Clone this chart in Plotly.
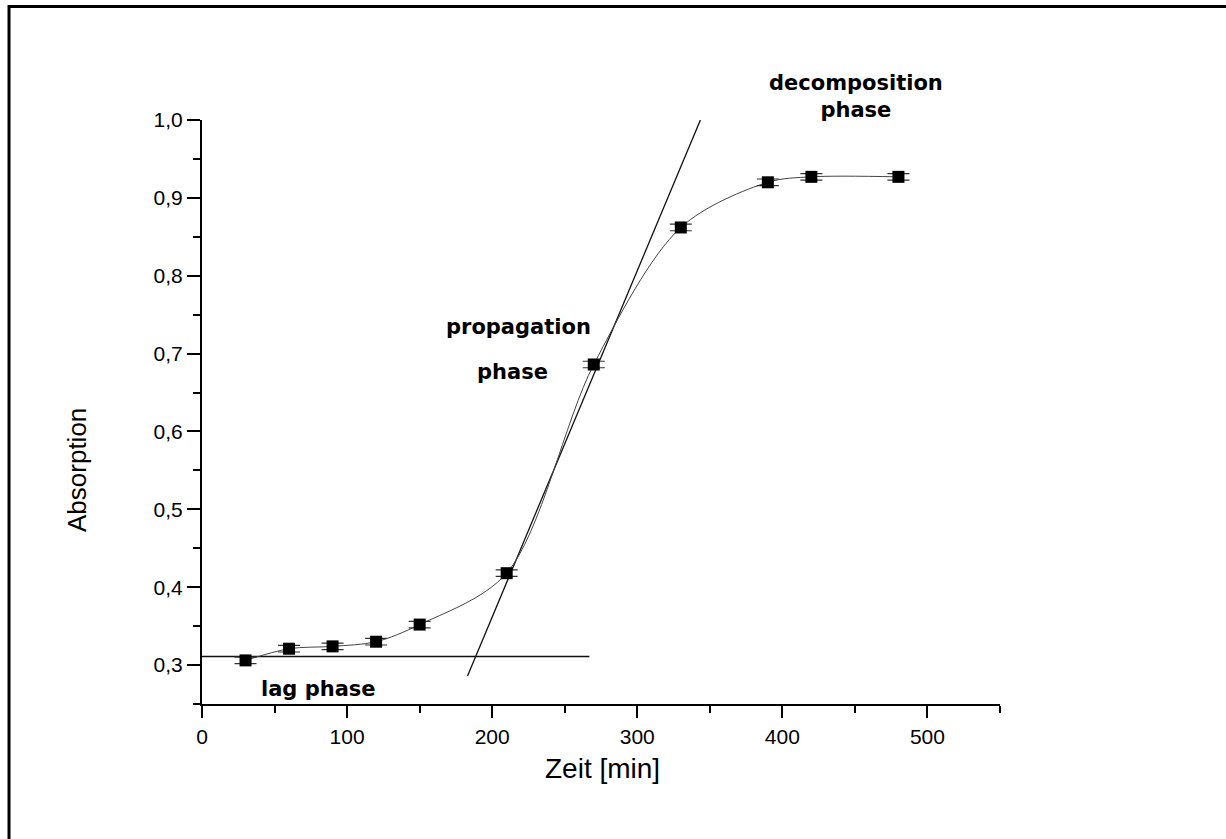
import plotly.graph_objects as go

# data
time_min = [30, 60, 90, 120, 150, 210, 270, 330, 390, 420, 480]
absorption = [0.306, 0.321, 0.324, 0.330, 0.352, 0.418, 0.686, 0.862, 0.920, 0.927, 0.927]
abs_err = [0.0042] * len(time_min)

tangent_x = [183, 343.5]
tangent_y = [0.286, 1.0]
lag_x = [0, 267]
lag_y = [0.311, 0.311]

x_ticks = [0, 100, 200, 300, 400, 500]
x_minor = [50, 150, 250, 350, 450, 550]
y_ticks = [0.3, 0.4, 0.5, 0.6, 0.7, 0.8, 0.9, 1.0]
y_minor = [0.25, 0.35, 0.45, 0.55, 0.65, 0.75, 0.85, 0.95]

W, H = 1226, 839
L, R, T, B = 202, 1000, 120, 704
pw, ph = R - L, B - T

def px(xp):
    return (xp - L) / pw

def py(yp):
    return (B - yp) / ph

fig = go.Figure()

fig.add_trace(go.Scatter(x=lag_x, y=lag_y, mode="lines",
                         line=dict(color="#111", width=1.3), hoverinfo="skip"))
fig.add_trace(go.Scatter(x=tangent_x, y=tangent_y, mode="lines",
                         line=dict(color="#111", width=1.3), hoverinfo="skip"))
fig.add_trace(go.Scatter(x=time_min, y=absorption, mode="lines",
                         line=dict(color="#444", width=1, shape="spline", smoothing=0.9),
                         hoverinfo="skip"))
fig.add_trace(go.Scatter(x=time_min, y=absorption, mode="markers",
                         marker=dict(symbol="square", size=12, color="black"),
                         error_y=dict(type="data", array=abs_err, visible=True,
                                      color="#333", thickness=1.2, width=11)))

font_tick = dict(family="Liberation Sans, Arial, sans-serif", size=21, color="black")
font_title = dict(family="Liberation Sans, Arial, sans-serif", color="black")
font_lab = dict(family="DejaVu Sans", size=21, color="black", weight="bold")

fig.update_layout(
    width=W, height=H,
    margin=dict(l=L, r=W - R, t=T, b=H - B, pad=0),
    paper_bgcolor="white", plot_bgcolor="white",
    showlegend=False,
    separators=", ",
    annotations=[
        dict(text="Absorption", xref="paper", yref="paper", x=px(77), y=py(470),
             xanchor="center", yanchor="middle", textangle=-90, showarrow=False,
             font=dict(font_title, size=26)),
        dict(text="Zeit [min]", xref="paper", yref="paper", x=px(602), y=py(768),
             xanchor="center", yanchor="middle", showarrow=False,
             font=dict(font_title, size=28)),
        dict(text="decomposition<br>phase", xref="paper", yref="paper", x=px(856), y=py(96),
             xanchor="center", yanchor="middle", showarrow=False, align="center",
             font=font_lab),
        dict(text="propagation", xref="paper", yref="paper", x=px(518), y=py(327),
             xanchor="center", yanchor="middle", showarrow=False, font=font_lab),
        dict(text="phase", xref="paper", yref="paper", x=px(512), y=py(372),
             xanchor="center", yanchor="middle", showarrow=False, font=font_lab),
        dict(text="lag phase", xref="paper", yref="paper", x=px(318), y=py(689),
             xanchor="center", yanchor="middle", showarrow=False, font=font_lab),
    ],
    shapes=[
        dict(type="rect", xref="paper", yref="paper",
             x0=px(9), y0=py(860), x1=px(1250), y1=py(6.5),
             line=dict(color="black", width=3), fillcolor="rgba(0,0,0,0)", layer="above"),
    ],
)

fig.update_xaxes(
    range=[0, 550], showgrid=False, zeroline=False,
    showline=True, linecolor="black", linewidth=2,
    tickmode="array", tickvals=x_ticks, ticks="outside", ticklen=12, tickwidth=2,
    tickcolor="black", tickfont=font_tick, ticklabelstandoff=1,
    minor=dict(tickmode="array", tickvals=x_minor, ticks="outside", ticklen=7,
               tickwidth=2, tickcolor="black", showgrid=False),
)
fig.update_yaxes(
    range=[0.25, 1.0], showgrid=False, zeroline=False,
    showline=True, linecolor="black", linewidth=2,
    tickmode="array", tickvals=y_ticks, tickformat=".1f", ticks="outside",
    ticklen=13, tickwidth=2, tickcolor="black", tickfont=font_tick,
    minor=dict(tickmode="array", tickvals=y_minor, ticks="outside", ticklen=7,
               tickwidth=2, tickcolor="black", showgrid=False),
)

fig.write_html("out.html")
